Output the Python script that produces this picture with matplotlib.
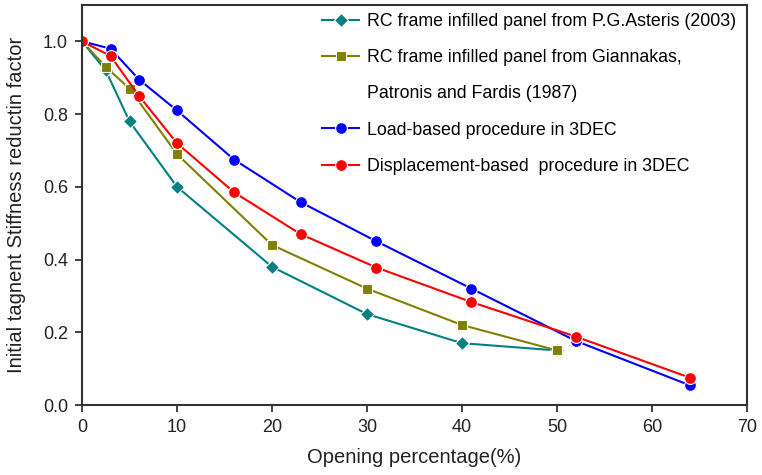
import matplotlib
matplotlib.use("Agg")
import matplotlib.pyplot as plt
from matplotlib.lines import Line2D

plt.rcParams['font.family'] = ['Liberation Sans', 'DejaVu Sans']

x_asteris = [0, 2.5, 5, 10, 20, 30, 40, 50]
y_asteris = [1.0, 0.92, 0.78, 0.60, 0.38, 0.25, 0.17, 0.15]
x_giann = [0, 2.5, 5, 10, 20, 30, 40, 50]
y_giann = [1.0, 0.93, 0.87, 0.69, 0.44, 0.32, 0.22, 0.15]
x_load = [0, 3, 6, 10, 16, 23, 31, 41, 52, 64]
y_load = [1.0, 0.98, 0.895, 0.81, 0.675, 0.558, 0.45, 0.32, 0.176, 0.054]
x_disp = [0, 3, 6, 10, 16, 23, 31, 41, 52, 64]
y_disp = [1.0, 0.96, 0.85, 0.72, 0.585, 0.47, 0.378, 0.283, 0.188, 0.075]

labels = ["RC frame infilled panel from P.G.Asteris (2003)",
          "RC frame infilled panel from Giannakas,",
          "Patronis and Fardis (1987)",
          "Load-based procedure in 3DEC",
          "Displacement-based  procedure in 3DEC"]

fig = plt.figure(figsize=(7.62, 4.75), dpi=100)
ax = fig.add_axes([82/762, 70/475, (747-82)/762, (405-5)/475])

kw = dict(lw=1.5, markeredgecolor='white', markeredgewidth=0.8)
h1, = ax.plot(x_asteris, y_asteris, color='#008080', marker='D', ms=7, **kw)
h2, = ax.plot(x_giann, y_giann, color='#808000', marker='s', ms=7.5, **kw)
h3, = ax.plot(x_load, y_load, color='#0000FF', marker='o', ms=8.5, **kw)
h4, = ax.plot(x_disp, y_disp, color='#FF0000', marker='o', ms=8.5, **kw)

blank = Line2D([], [], linestyle='none', marker=None)
ax.legend([h1, h2, blank, h3, h4], labels, loc='upper right', frameon=False,
          fontsize=12.8, labelspacing=1.08, handlelength=2.1, handletextpad=0.4,
          bbox_to_anchor=(1.007, 1.02))

ax.set_xlim(0, 70)
ax.set_ylim(0, 1.1)
ax.set_xticks(range(0, 71, 10))
ax.set_yticks([0.0, 0.2, 0.4, 0.6, 0.8, 1.0])
ax.set_yticklabels(['0.0', '0.2', '0.4', '0.6', '0.8', '1.0'])
ax.tick_params(direction='out', length=5, width=1.2, pad=5, labelsize=13, colors='#222222')
for s in ax.spines.values():
    s.set_linewidth(1.5)
    s.set_color('#333333')
ax.set_xlabel('Opening percentage(%)', fontsize=14.5, color='#222222', labelpad=9)
ax.set_ylabel('Initial tagnent Stiffness reductin factor', fontsize=14.5, color='#222222', labelpad=12)

fig.savefig('out.png', dpi=100)
